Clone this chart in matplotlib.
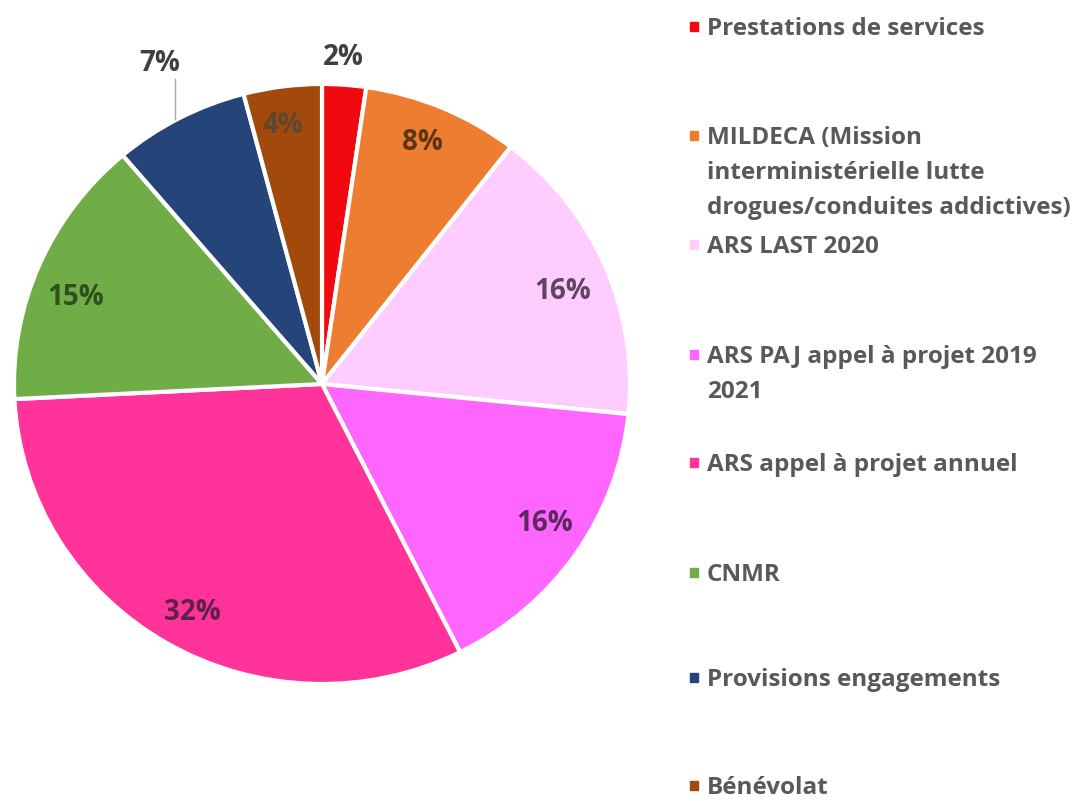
import matplotlib
matplotlib.use("Agg")
from matplotlib import pyplot as plt
from matplotlib.patches import Rectangle
import numpy as np

categories = [
    "Prestations de services",
    "MILDECA (Mission\ninterministérielle lutte\ndrogues/conduites addictives)",
    "ARS LAST 2020",
    "ARS PAJ appel à projet 2019\n2021",
    "ARS appel à projet annuel",
    "CNMR",
    "Provisions engagements",
    "Bénévolat",
]
shares = [2.3, 8.2, 16.1, 16.0, 31.6, 14.6, 7.1, 4.1]
colors = ["#F00A10", "#ED7D31", "#FFCCFF", "#FF66FF", "#FF3399",
          "#70AD47", "#254479", "#A14A0C"]
label_colors = ["#404040", "#5E3512", "#5E4660", "#5A2A5E", "#5E2248",
                "#2E4F1E", "#404040", "#5E4632"]
# label placement: radial distance and angular nudge (deg, clockwise)
label_dist = [1.09, 0.87, 0.84, 0.86, 0.87, 0.85, 1.19, 0.87]
label_nudge = [-0.5, -1.0, 1.6, -1.7, -1.2, -3.5, 1.3, -1.0]

# legend layout: pixel y (centre of first text line)
legend_y = [26, 135, 244, 354, 462, 572, 677, 785]
line_step = 35

W, H = 1091, 801
plt.rcParams["font.family"] = ["Open Sans", "DejaVu Sans"]
fig = plt.figure(figsize=(W / 100, H / 100), dpi=100)

cx, cy, rx, ry = 322, 384, 308, 300
ax = fig.add_axes([(cx - rx) / W, (H - cy - ry) / H, 2 * rx / W, 2 * ry / H])

wedges, _ = ax.pie(shares, colors=colors, startangle=90, counterclock=False,
                   radius=1, wedgeprops=dict(edgecolor="white", linewidth=3))
ax.set_xlim(-1, 1)
ax.set_ylim(-1, 1)
ax.set_aspect("auto")
ax.axis("off")

total = sum(shares)
for w, s, c, d, n in zip(wedges, shares, label_colors, label_dist, label_nudge):
    ang = np.deg2rad((w.theta1 + w.theta2) / 2 - n)
    x, y = d * np.cos(ang), d * np.sin(ang)
    ax.text(x, y, "%.0f%%" % (100 * s / total), ha="center", va="center",
            fontsize=20, fontweight="bold", color=c, clip_on=False)
    if d > 1.12:
        # leader line down to the wedge edge
        lx = x + 0.05
        ye = np.sqrt(max(0.0, 1 - lx ** 2)) + 0.005
        ax.plot([lx, lx], [y - 0.05, ye], color="#A6A6A6", lw=1, clip_on=False)

for lab, col, y in zip(categories, colors, legend_y):
    fig.patches.append(Rectangle((690 / W, 1 - (y + 5) / H), 8 / W, 9 / H,
                                 transform=fig.transFigure, color=col))
    for i, line in enumerate(lab.split("\n")):
        fig.text(707 / W, 1 - (y + i * line_step) / H, line, ha="left",
                 va="center_baseline", fontsize=17.5, fontweight="bold",
                 color="#595959")

fig.savefig("out.png", dpi=100)
